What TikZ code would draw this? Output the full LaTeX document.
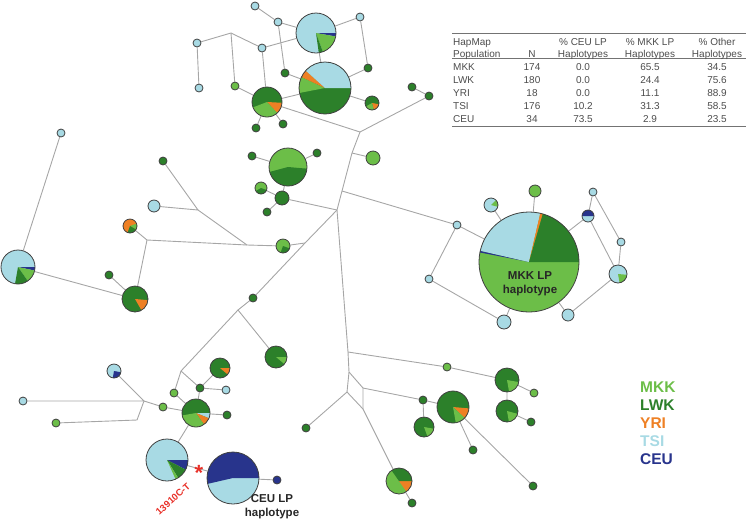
\documentclass[tikz,border=0pt]{standalone}
\usepackage{fontspec}
\setmainfont{Liberation Sans}
\usetikzlibrary{backgrounds}
\definecolor{mkk}{RGB}{108,190,72}
\definecolor{lwk}{RGB}{44,128,42}
\definecolor{yri}{RGB}{238,128,36}
\definecolor{tsi}{RGB}{168,218,228}
\definecolor{ceu}{RGB}{40,52,140}
\definecolor{snp}{RGB}{232,48,40}

\begin{document}
\begin{tikzpicture}[x=1pt,y=-1pt,
  hap/.style={circle,draw=black!75,line width=0.8pt,inner sep=0pt,minimum size=#1},
  wedges/.style={path picture={\foreach \wa/\wb/\wc in {#1}
    \fill[\wc] (path picture bounding box.center) -- +(\wa:60) arc[start angle=\wa,end angle=\wb,radius=60] -- cycle;}},
  link/.style={draw=black!35,line width=0.9pt},
  tab/.style={font=\fontsize{10}{11}\selectfont,text=black!70,inner sep=0pt},
  key/.style={font=\fontsize{15.5}{17}\selectfont\bfseries,anchor=west,inner sep=0pt},
  lab/.style={font=\fontsize{11.5}{14}\selectfont\bfseries,align=center,text=black!85,inner sep=0pt}]
\useasboundingbox (0,0) rectangle (754,523);

% top cluster
\node[hap=8,fill=tsi] (t1) at (255,6) {};
\node[hap=8,fill=tsi] (t2) at (278,22) {};
\node[hap=40,fill=tsi,wedges={0/10/ceu,10/70/mkk,70/82/lwk}] (tp) at (316,33) {};
\node[hap=8,fill=tsi] (t3) at (360,17) {};
\node[hap=8,fill=tsi] (t4) at (197,43) {};
\coordinate (b1) at (231,33);
\node[hap=8,fill=tsi] (t5) at (262,48) {};
\node[hap=8,fill=tsi] (t6) at (199,88) {};
\node[hap=8,fill=mkk] (t7) at (235,86) {};
\node[hap=8,fill=lwk] (t8) at (285,73) {};
\node[hap=8,fill=lwk] (t9) at (368,68) {};
\node[hap=52,fill=lwk,wedges={169/205/mkk,205/222/yri,222/360/tsi}] (bp) at (325,88) {};
\node[hap=30,fill=lwk,wedges={3/47/yri,47/159/mkk}] (lp) at (267,102) {};
\node[hap=8,fill=lwk] (t10) at (256,128) {};
\node[hap=8,fill=lwk] (t11) at (283,124) {};
\node[hap=14,fill=lwk,wedges={10/75/yri,75/150/mkk}] (sp) at (372,103) {};
\node[hap=8,fill=lwk] (t12) at (412,87) {};
\node[hap=8,fill=lwk] (t13) at (429,96) {};
\coordinate (b2) at (360,132);
\coordinate (c1) at (352,153);
\node[hap=14,fill=mkk] (n1) at (373,158) {};
\coordinate (c2) at (342,191);
\coordinate (c3) at (337,210);

% middle cluster
\node[hap=8,fill=lwk] (m1) at (252,156) {};
\node[hap=38,fill=mkk,wedges={5/165/lwk}] (m2) at (288,167) {};
\node[hap=8,fill=lwk] (m3) at (317,153) {};
\node[hap=12,fill=mkk,wedges={20/150/lwk}] (m4) at (261,188) {};
\node[hap=14,fill=lwk] (m5) at (282,198) {};
\node[hap=8,fill=lwk] (m6) at (267,212) {};

% left cluster
\node[hap=8,fill=lwk] (l1) at (163,161) {};
\node[hap=12,fill=tsi] (l2) at (154,206) {};
\coordinate (b3) at (198,210);
\node[hap=14,fill=yri,wedges={-20/30/mkk,30/110/lwk}] (l3) at (130,226) {};
\coordinate (b4) at (147,240);
\coordinate (b5) at (247,245);
\node[hap=14,fill=mkk,wedges={20/110/lwk}] (l4) at (283,246) {};
\coordinate (c4) at (305,243);
\node[hap=26,fill=lwk,wedges={5/60/yri}] (l5) at (135,299) {};
\node[hap=8,fill=lwk] (l6) at (109,275) {};
\node[hap=34,fill=tsi,wedges={0/12/ceu,12/55/mkk,55/100/lwk}] (l7) at (18,267) {};
\node[hap=8,fill=tsi] (l8) at (61,133) {};
\node[hap=8,fill=lwk] (l9) at (253,298) {};
\coordinate (b6) at (238,310);

% bottom left cluster
\node[hap=14,fill=tsi,wedges={10/100/ceu}] (g1) at (114,371) {};
\node[hap=8,fill=tsi] (g2) at (23,401) {};
\node[hap=8,fill=mkk] (g3) at (56,423) {};
\coordinate (b7) at (144,401);
\coordinate (b8) at (137,420);
\node[hap=8,fill=mkk] (g4) at (163,407) {};
\node[hap=28,fill=lwk,wedges={0/22/tsi,22/55/yri,55/170/mkk}] (g5) at (196,413) {};
\node[hap=8,fill=mkk] (g6) at (174,393) {};
\node[hap=8,fill=lwk] (g7) at (200,388) {};
\node[hap=8,fill=tsi] (g8) at (226,390) {};
\node[hap=20,fill=lwk,wedges={0/40/yri}] (g9) at (220,368) {};
\node[hap=8,fill=lwk] (g10) at (227,415) {};
\coordinate (b9) at (181,371);
\node[hap=42,fill=tsi,wedges={0/27/ceu,27/58/lwk,58/66/mkk}] (g11) at (167,460) {};
\node[hap=52,fill=tsi,wedges={167/360/ceu}] (g12) at (233,478) {};
\node[hap=8,fill=ceu] (g13) at (277,480) {};
\node[hap=22,fill=lwk,wedges={0/40/mkk}] (g14) at (276,357) {};

% lower trunk
\coordinate (c5) at (348,352);
\node[hap=8,fill=mkk] (h1) at (447,367) {};
\node[hap=24,fill=lwk,wedges={10/80/mkk}] (h2) at (507,380) {};
\node[hap=8,fill=mkk] (h3) at (534,393) {};
\node[hap=22,fill=lwk,wedges={15/80/mkk}] (h4) at (507,411) {};
\node[hap=8,fill=lwk] (h5) at (531,422) {};
\coordinate (ja) at (349,372);
\coordinate (jb) at (363,388);
\coordinate (jc) at (347,392);
\coordinate (jd) at (363,409);
\node[hap=8,fill=lwk] (h6) at (423,400) {};
\node[hap=20,fill=lwk,wedges={10/70/mkk}] (h7) at (424,427) {};
\node[hap=32,fill=lwk,wedges={5/43/yri,43/80/mkk}] (h8) at (453,407) {};
\node[hap=8,fill=lwk] (h9) at (473,450) {};
\node[hap=8,fill=lwk] (h10) at (533,486) {};
\node[hap=8,fill=lwk] (h11) at (306,428) {};
\node[hap=26,fill=mkk,wedges={0/55/yri,235/360/lwk}] (h12) at (399,481) {};
\node[hap=8,fill=lwk] (h13) at (412,503) {};

% right cluster
\node[hap=100,fill=mkk,wedges={191/193/ceu,193/283/tsi,283/286/yri,286/360/lwk}] (r0) at (529,262) {};
\node[hap=14,fill=tsi,wedges={-45/15/mkk}] (r1) at (491,205) {};
\node[hap=12,fill=mkk] (r2) at (535,191) {};
\node[hap=12,fill=tsi,wedges={180/360/ceu}] (r3) at (588,216) {};
\node[hap=8,fill=tsi] (r4) at (593,192) {};
\node[hap=8,fill=tsi] (r5) at (621,242) {};
\node[hap=18,fill=tsi,wedges={5/80/mkk}] (r6) at (618,274) {};
\node[hap=12,fill=tsi] (r7) at (568,315) {};
\node[hap=8,fill=tsi] (r8) at (457,225) {};
\node[hap=8,fill=tsi] (r9) at (429,279) {};
\node[hap=14,fill=tsi] (r10) at (504,322) {};

\node[lab] (mkklab) at (530,284) {MKK LP\\haplotype};
\node[lab] (ceulab) at (272,507) {CEU LP\\haplotype};
\node[font=\fontsize{22}{22}\selectfont\bfseries,text=snp,inner sep=0pt] (star) at (199,473) {*};
\node[font=\fontsize{9.5}{10}\selectfont\bfseries,text=snp,inner sep=0pt,rotate=42] (snplab) at (173,499) {13910C-T};

\begin{scope}[on background layer]
\draw[link] (t1) -- (t2) -- (tp);
\draw[link] (t2) -- (t8) -- (bp);
\draw[link] (t3) -- (tp);
\draw[link] (t3) -- (t9) -- (bp);
\draw[link] (t6) -- (t4) -- (b1) -- (t5) -- (tp);
\draw[link] (b1) -- (t7) -- (lp);
\draw[link] (t5) -- (lp);
\draw[link] (tp) -- (bp) -- (lp);
\draw[link] (bp) -- (sp);
\draw[link] (t10) -- (lp) -- (t11);
\draw[link] (lp) -- (b2);
\draw[link] (t12) -- (t13) -- (b2) -- (c1) -- (c2) -- (c3) -- (c5);
\draw[link] (c1) -- (n1);
\draw[link] (m1) -- (m2) -- (m3);
\draw[link] (m2) -- (m5) -- (c3);
\draw[link] (m4) -- (m5) -- (m6);
\draw[link] (l1) -- (b3) -- (l2);
\draw[link] (b3) -- (b5) -- (l4) -- (c4);
\draw[link] (l3) -- (b4) -- (b5);
\draw[link] (b4) -- (l5) -- (l6);
\draw[link] (l8) -- (l7) -- (l5);
\draw[link] (c3) -- (c4) -- (l9) -- (b6) -- (g14);
\draw[link] (b6) -- (b9) -- (g6) -- (g5);
\draw[link] (b9) -- (g7) -- (g9);
\draw[link] (g8) -- (g7) -- (g5);
\draw[link] (g2) -- (b7) -- (g1);
\draw[link] (g3) -- (b8) -- (b7) -- (g4) -- (g5) -- (g10);
\draw[link] (g5) -- (g11) -- (g12) -- (g13);
\draw[link] (c5) -- (h1) -- (h2) -- (h3);
\draw[link] (h2) -- (h4) -- (h5);
\draw[link] (c5) -- (ja) -- (jb) -- (jd) -- (h12) -- (h13);
\draw[link] (ja) -- (jc) -- (jd);
\draw[link] (jc) -- (h11);
\draw[link] (jb) -- (h6) -- (h7);
\draw[link] (h6) -- (h8) -- (h9);
\draw[link] (h8) -- (h10);
\draw[link] (c2) -- (r8) -- (r0);
\draw[link] (r8) -- (r9) -- (r10) -- (r0);
\draw[link] (r1) -- (r0) -- (r2);
\draw[link] (r3) -- (r0);
\draw[link] (r3) -- (r4) -- (r5) -- (r6) -- (r3);
\draw[link] (r6) -- (r7) -- (r0);
\end{scope}

% table
\draw[black!55,line width=1pt] (452,33) -- (746,33);
\draw[black!55,line width=0.6pt] (452,58.3) -- (746,58.3);
\draw[black!55,line width=1pt] (452,126) -- (746,126);
\node[tab,anchor=base west] (hpop) at (453,45.5) {HapMap};
\node[tab,anchor=base west] (hpopb) at (453,57) {Population};
\node[tab,anchor=base] (hn) at (532,57) {N};
\node[tab,anchor=base] (hceu) at (583,45.5) {\% CEU LP};
\node[tab,anchor=base] (hceub) at (583,57) {Haplotypes};
\node[tab,anchor=base] (hmkk) at (650,45.5) {\% MKK LP};
\node[tab,anchor=base] (hmkkb) at (650,57) {Haplotypes};
\node[tab,anchor=base] (hoth) at (717,45.5) {\% Other};
\node[tab,anchor=base] (hothb) at (717,57) {Haplotypes};
\foreach \pn/\nn/\ca/\ma/\oa [count=\i] in {MKK/174/0.0/65.5/34.5,LWK/180/0.0/24.4/75.6,YRI/18/0.0/11.1/88.9,TSI/176/10.2/31.3/58.5,CEU/34/73.5/2.9/23.5}{
  \node[tab,anchor=base west] (pop\i) at (453,57.4+13*\i) {\pn};
  \node[tab,anchor=base] (num\i) at (532,57.4+13*\i) {\nn};
  \node[tab,anchor=base] (ceu\i) at (583,57.4+13*\i) {\ca};
  \node[tab,anchor=base] (mkk\i) at (650,57.4+13*\i) {\ma};
  \node[tab,anchor=base] (oth\i) at (717,57.4+13*\i) {\oa};
}

% legend
\node[key,text=mkk] (kmkk) at (640,387) {MKK};
\node[key,text=lwk] (klwk) at (640,405) {LWK};
\node[key,text=yri] (kyri) at (640,423) {YRI};
\node[key,text=tsi] (ktsi) at (640,441) {TSI};
\node[key,text=ceu] (kceu) at (640,459) {CEU};
\end{tikzpicture}
\end{document}
